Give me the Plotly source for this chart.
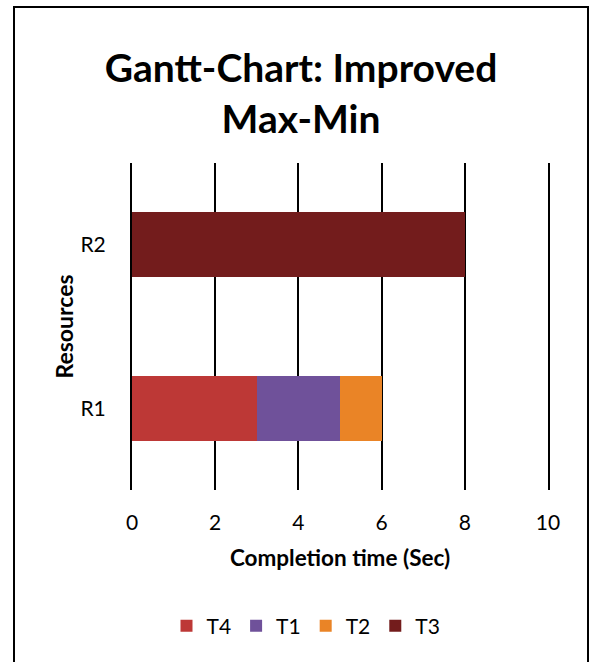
import plotly.graph_objects as go

resources = ["R1", "R2"]
task_names = ["T4", "T1", "T2", "T3"]
durations = {
    "T4": [3, 0],
    "T1": [2, 0],
    "T2": [1, 0],
    "T3": [0, 8],
}
colors = {
    "T4": "#bd3836",
    "T1": "#6f519a",
    "T2": "#ea8426",
    "T3": "#731c1c",
}
x_ticks = [0, 2, 4, 6, 8, 10]

FONT = "Lato, Carlito, 'Open Sans', sans-serif"

fig = go.Figure()
for t in task_names:
    fig.add_trace(go.Bar(
        y=resources, x=durations[t], name=t, orientation="h",
        marker=dict(color=colors[t], line=dict(width=0)),
        width=0.4,
    ))

W, H = 590, 662
L, R, T, B = 132, 42, 163, 172
pw, ph = W - L - R, H - T - B

def px(x):
    return (x - L) / pw

def py(y):
    return (H - B - y) / ph

fig.update_layout(
    width=W, height=H,
    barmode="stack",
    plot_bgcolor="white", paper_bgcolor="white",
    margin=dict(l=L, r=R, t=T, b=B),
    font=dict(family=FONT, color="black", size=21),
    title=dict(
        text="<b>Gantt-Chart: Improved<br>Max-Min</b>",
        xref="container", yref="container",
        x=301 / W, xanchor="center",
        y=1 - 82 / H, yanchor="middle",
        font=dict(size=39, family=FONT, color="black"),
    ),
    xaxis=dict(
        range=[0, 10], tickvals=x_ticks, ticktext=[str(v) for v in x_ticks],
        showgrid=True, gridcolor="black", gridwidth=2,
        zeroline=False, showline=False, ticks="",
        ticklabelstandoff=18,
        title=dict(text="<b>Completion time (Sec)</b>", font=dict(size=22.5), standoff=17),
    ),
    yaxis=dict(
        range=[-0.5, 1.5], showgrid=False, zeroline=False,
        showline=True, linecolor="black", linewidth=2, mirror=True, ticks="",
        ticklabelstandoff=20,
        title=dict(text="<b>Resources</b>", font=dict(size=23), standoff=0),
    ),
    legend=dict(
        orientation="h", x=px(306), xanchor="center",
        y=py(626), yanchor="middle",
        font=dict(size=21), itemwidth=30, traceorder="normal",
    ),
    shapes=[dict(
        type="rect", xref="paper", yref="paper",
        x0=px(14), x1=px(588), y0=py(668), y1=py(7),
        line=dict(color="black", width=2), fillcolor="rgba(0,0,0,0)",
        layer="above",
    )],
)

fig.write_html("out.html", config={"displayModeBar": False},
               post_script="document.body.style.margin='0';")
